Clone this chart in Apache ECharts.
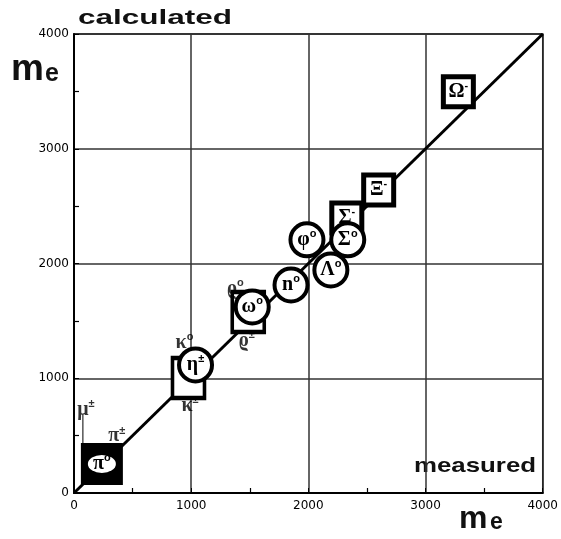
<!DOCTYPE html>
<html><head><meta charset="utf-8">
<script src="https://cdn.jsdelivr.net/npm/echarts@6/dist/echarts.min.js"></script>
<style>html,body{margin:0;padding:0;background:#fff}#c{width:561px;height:539px}</style>
</head><body><div id="c"></div>
<script>
// Diagonal reference line (calculated = measured)
const lineX = [0, 4000];
const lineY = [0, 4000];
// thin leader line from mu label
const muLineX = [76, 76];
const muLineY = [680, 330];
// circles (white, black outline)
const circleX = [1037, 1521, 1852, 1988, 2336, 2192];
const circleY = [1116, 1622, 1813, 2206, 2206, 1944];
const circleBase = ['η', 'ω', 'n', 'φ', 'Σ', 'Λ'];
const circleSup = ['±', 'o', 'o', 'o', 'o', 'o'];
// bracket boxes behind kaon/eta and rho/omega
const bracketX = [977, 1487];
const bracketY = [1003, 1578];
// outlined squares
const squareX = [2328, 2600, 3280];
const squareY = [2397, 2641, 3496];
const squareBase = ['Σ', 'Ξ', 'Ω'];
const squareSup = ['-', '-', '-'];
// pion neutral: filled square
const pionX = [238];
const pionY = [253];
const pionBase = ['π'];
const pionSup = ['o'];
// free labels
const freeX = [102, 365, 943, 990, 1376, 1475];
const freeY = [724, 497, 1308, 760, 1779, 1325];
const freeBase = ['μ', 'π', 'κ', 'κ', 'ϱ', 'ϱ'];
const freeSup = ['±', '±', 'o', '±', 'o', '±'];
// axis ticks
const ticks = [0, 1000, 2000, 3000, 4000];

const zip = (xs, ys, b, s) => xs.map((x, i) => ({ value: [x, ys[i]], base: b ? b[i] : '', sup: s ? s[i] : '' }));
const richStyle = {
  b: { fontFamily: 'Liberation Serif', fontSize: 20, fontWeight: 'bold', color: '#000', lineHeight: 22 },
  s: { fontFamily: 'Liberation Sans', fontSize: 11, fontWeight: 'bold', color: '#000', verticalAlign: 'top', lineHeight: 12 }
};
const fmt = p => '{b|' + p.data.base + '}{s|' + p.data.sup + '}';

const chart = echarts.init(document.getElementById('c'));
const axisCommon = {
  type: 'value', min: 0, max: 4000, interval: 1000,
  axisLine: { show: true, lineStyle: { color: '#000', width: 2 } },
  axisTick: { show: true, inside: true, length: 5, lineStyle: { color: '#000' } },
  minorTick: { show: true, splitNumber: 2, length: 5, lineStyle: { color: '#000', width: 1.2 } },
  splitLine: { show: true, lineStyle: { color: '#333', width: 1.5 } },
  axisLabel: { color: '#000', fontSize: 12, fontFamily: 'DejaVu Sans',
    formatter: v => ticks.indexOf(v) >= 0 ? String(v) : '' }
};
chart.setOption({
  animation: false,
  backgroundColor: '#fff',
  grid: { left: 74, top: 34, right: 16, bottom: 46, show: true, borderColor: '#000', borderWidth: 1.5, backgroundColor: 'transparent' },
  xAxis: Object.assign({}, axisCommon, { axisLabel: Object.assign({}, axisCommon.axisLabel, { margin: 7 }) }),
  yAxis: Object.assign({}, axisCommon, { axisLabel: Object.assign({}, axisCommon.axisLabel, { margin: 5 }) }),
  graphic: [
    { type: 'text', x: 78, y: 8, scaleX: 1.5, style: { text: 'calculated', font: 'bold 21px "Liberation Sans"', fill: '#111' } },
    { type: 'text', x: 414, y: 456, scaleX: 1.23, style: { text: 'measured', font: 'bold 21px "Liberation Sans"', fill: '#111' } },
    { type: 'text', x: 11, y: 70, style: { text: 'm', font: 'bold 37px "Liberation Sans"', fill: '#111', textVerticalAlign: 'middle' } },
    { type: 'text', x: 45, y: 74, style: { text: 'e', font: 'bold 25px "Liberation Sans"', fill: '#111', textVerticalAlign: 'middle' } },
    { type: 'text', x: 459, y: 519, style: { text: 'm', font: 'bold 32px "Liberation Sans"', fill: '#111', textVerticalAlign: 'middle' } },
    { type: 'text', x: 490, y: 523, style: { text: 'e', font: 'bold 23px "Liberation Sans"', fill: '#111', textVerticalAlign: 'middle' } }
  ],
  series: [
    { type: 'line', data: lineX.map((x, i) => [x, lineY[i]]), symbol: 'none', lineStyle: { color: '#000', width: 3 }, z: 2 },
    { type: 'line', data: muLineX.map((x, i) => [x, muLineY[i]]), symbol: 'none', lineStyle: { color: '#000', width: 1 }, z: 2 },
    { type: 'scatter', data: zip(bracketX, bracketY), symbol: 'rect', symbolSize: [32, 40],
      itemStyle: { color: '#fff', borderColor: '#000', borderWidth: 4, opacity: 1 }, z: 3 },
    { type: 'scatter', data: zip(squareX, squareY, squareBase, squareSup), symbol: 'rect', symbolSize: [30, 30],
      itemStyle: { color: '#fff', borderColor: '#000', borderWidth: 5, opacity: 1 },
      label: { show: true, position: 'inside', formatter: fmt, rich: richStyle }, z: 4 },
    { type: 'scatter', data: zip(pionX, pionY), symbol: 'rect', symbolSize: [42, 42],
      itemStyle: { color: '#000', opacity: 1 }, z: 4 },
    { type: 'scatter', data: zip(pionX, pionY, pionBase, pionSup), symbol: 'circle', symbolSize: [28, 18],
      itemStyle: { color: '#fff', opacity: 1 },
      label: { show: true, position: 'inside', formatter: fmt, rich: richStyle }, z: 5 },
    { type: 'scatter', data: zip(circleX, circleY, circleBase, circleSup), symbol: 'circle', symbolSize: 33,
      itemStyle: { color: '#fff', borderColor: '#000', borderWidth: 4, opacity: 1 },
      label: { show: true, position: 'inside', formatter: fmt, rich: richStyle }, z: 5 },
    { type: 'scatter', data: zip(freeX, freeY, freeBase, freeSup), symbol: 'circle', symbolSize: 2,
      itemStyle: { color: 'rgba(0,0,0,0)' },
      label: { show: true, position: 'inside', formatter: fmt, rich: richStyle }, z: 6 }
  ]
});
</script></body></html>
